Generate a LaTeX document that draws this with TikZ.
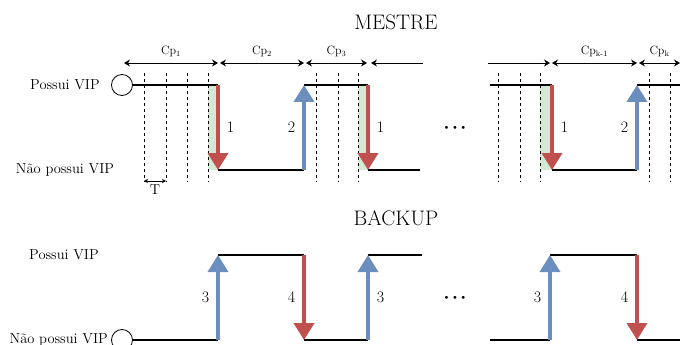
\documentclass[tikz,border=0pt]{standalone}
\usepackage{fontspec}
\usepackage{tikz}
\usetikzlibrary{arrows,arrows.meta,positioning,calc}
\definecolor{fallred}{HTML}{C0504D}
\definecolor{riseblue}{HTML}{6C8EBF}
\definecolor{holdgreen}{HTML}{D5E8D4}
\tikzstyle{txt}   =[font=\fontsize{14.5}{16}\selectfont, inner sep=2pt]
\tikzstyle{title} =[font=\fontsize{21}{24}\selectfont, inner sep=0pt]
\tikzstyle{num}   =[font=\fontsize{16}{18}\selectfont, inner sep=1pt]
\tikzstyle{cptxt} =[font=\fontsize{12}{14}\selectfont, inner sep=1pt]
\tikzstyle{dots}  =[font=\fontsize{11}{13}\selectfont, inner sep=0pt]
\tikzstyle{start} =[circle, draw, line width=0.8pt, minimum size=21pt,
                    inner sep=0pt, outer sep=0pt, fill=white]
\tikzstyle{vipline}=[line width=1.6pt]
\tikzstyle{cpline}=[dash pattern=on 3pt off 3pt, line width=0.7pt]
\tikzstyle{cpspan}=[line width=0.8pt,
                    {Stealth[length=6pt,width=7pt]}-{Stealth[length=6pt,width=7pt]}]
\tikzstyle{fall}  =[draw=fallred, line width=3.6pt,
                    -{Triangle[length=17pt,width=20pt]}]
\tikzstyle{rise}  =[draw=riseblue, line width=3.6pt,
                    -{Triangle[length=17pt,width=20pt]}]

\begin{document}
\begin{tikzpicture}[x=1pt, y=-1pt]
    \useasboundingbox (0,0) rectangle (689,345);

    % titles
    \node[title] (mestre) at (396,22) {MESTRE};
    \node[title] (backup) at (396,218) {BACKUP};

    % state names and start marks
    \node[txt] (mhigh) at (65,85) {Possui VIP};
    \node[txt] (mlow) at (65,170) {Não possui VIP};
    \node[txt] (bhigh) at (64,255) {Possui VIP};
    \node[txt, anchor=east] (blow) at (110,340) {Não possui VIP};
    \node[start] (mstart) at (122,85) {};
    \node[start] (bstart) at (122,340) {};

    % checkpoint periods
    \foreach \n/\x in {0/124,1/218,2/220,3/304,4/306,5/367,6/371,7/423,
                       8/488,9/550,10/552,11/637,12/639,13/680}
        \coordinate (s\n) at (\x,63);
    \draw[cpspan] (s0) -- (s1) node[cptxt, midway, above=5pt] {Cp\textsubscript{1}};
    \draw[cpspan] (s2) -- (s3) node[cptxt, midway, above=5pt] {Cp\textsubscript{2}};
    \draw[cpspan] (s4) -- (s5) node[cptxt, midway, above=5pt] {Cp\textsubscript{3}};
    \draw[line width=0.8pt, {Stealth[length=6pt,width=7pt]}-] (s6) -- (s7);
    \draw[line width=0.8pt, -{Stealth[length=6pt,width=7pt]}] (s8) -- (s9);
    \draw[cpspan] (s10) -- (s11) node[cptxt, midway, above=5pt] {Cp\textsubscript{k-1}};
    \draw[cpspan] (s12) -- (s13) node[cptxt, midway, above=5pt] {Cp\textsubscript{k}};

    % hold time before each drop
    \fill[holdgreen] (208,85) rectangle (218,170);
    \fill[holdgreen] (358,85) rectangle (368,170);
    \fill[holdgreen] (540,85) rectangle (552,170);

    % ticks of period T
    \foreach \x in {144,166,187,208,316,338,358,498,520,540,649,670}
        \draw[cpline] (\x,73) -- (\x,182);
    \coordinate (ta) at (144,181);
    \coordinate (tb) at (166,181);
    \draw[line width=0.7pt, {Stealth[length=4pt,width=4pt]}-{Stealth[length=4pt,width=4pt]}]
        (ta) -- (tb) node[txt, midway, below=1pt] {T};

    % master levels
    \coordinate (mh1) at (218,85);  \coordinate (ml1) at (218,170);
    \coordinate (ml2) at (304,170); \coordinate (mh2) at (304,85);
    \coordinate (mh3) at (368,85);  \coordinate (ml3) at (368,170);
    \coordinate (ml4) at (420,170);
    \coordinate (mh5) at (490,85);  \coordinate (mh6) at (552,85);
    \coordinate (ml6) at (552,170); \coordinate (ml7) at (637,170);
    \coordinate (mh7) at (637,85);  \coordinate (mh8) at (680,85);
    \draw[vipline] (mstart) -- (mh1);
    \draw[vipline] (ml1) -- (ml2);
    \draw[vipline] (mh2) -- (mh3);
    \draw[vipline] (ml3) -- (ml4);
    \draw[vipline] (mh5) -- (mh6);
    \draw[vipline] (ml6) -- (ml7);
    \draw[vipline] (mh7) -- (mh8);
    \draw[fall] (mh1) -- (ml1) node[num, midway, right=6pt] {1};
    \draw[rise] (ml2) -- (mh2) node[num, midway, left=6pt] {2};
    \draw[fall] (mh3) -- (ml3) node[num, midway, right=6pt] {1};
    \draw[fall] (mh6) -- (ml6) node[num, midway, right=6pt] {1};
    \draw[rise] (ml7) -- (mh7) node[num, midway, left=6pt] {2};
    \node[dots] (mdots) at (455,128) {\textbullet\textbullet\textbullet};

    % backup levels
    \coordinate (bl1) at (218,340); \coordinate (bh1) at (218,255);
    \coordinate (bh2) at (304,255); \coordinate (bl2) at (304,340);
    \coordinate (bl3) at (368,340); \coordinate (bh3) at (368,255);
    \coordinate (bh4) at (422,255);
    \coordinate (bl5) at (490,340); \coordinate (bl6) at (550,340);
    \coordinate (bh6) at (550,255); \coordinate (bh7) at (637,255);
    \coordinate (bl7) at (637,340); \coordinate (bl8) at (680,340);
    \draw[vipline] (bstart) -- (bl1);
    \draw[vipline] (bh1) -- (bh2);
    \draw[vipline] (bl2) -- (bl3);
    \draw[vipline] (bh3) -- (bh4);
    \draw[vipline] (bl5) -- (bl6);
    \draw[vipline] (bh6) -- (bh7);
    \draw[vipline] (bl7) -- (bl8);
    \draw[rise] (bl1) -- (bh1) node[num, midway, left=6pt] {3};
    \draw[fall] (bh2) -- (bl2) node[num, midway, left=6pt] {4};
    \draw[rise] (bl3) -- (bh3) node[num, midway, right=6pt] {3};
    \draw[rise] (bl6) -- (bh6) node[num, midway, left=6pt] {3};
    \draw[fall] (bh7) -- (bl7) node[num, midway, left=6pt] {4};
    \node[dots] (bdots) at (455,298) {\textbullet\textbullet\textbullet};
\end{tikzpicture}
\end{document}
